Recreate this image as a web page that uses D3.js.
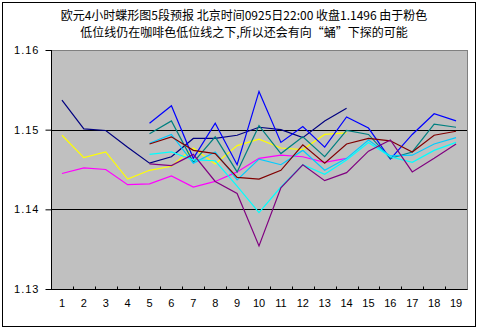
<!DOCTYPE html>
<html>
<head>
<meta charset="utf-8">
<script src="https://cdn.jsdelivr.net/npm/d3@7"></script>
<style>
  html, body { margin: 0; padding: 0; background: #ffffff; }
  svg { display: block; }
</style>
</head>
<body>
<svg id="chart" width="483" height="332"></svg>
<script>
// Categories along the x axis (4-hour bars)
const categories = ["1","2","3","4","5","6","7","8","9","10","11","12","13","14","15","16","17","18","19"];
const yTicks = [1.13, 1.14, 1.15, 1.16];
const titleLines = [
  "欧元4小时蝶形图5段预报 北京时间0925日22:00 收盘1.1496 由于粉色",
  "低位线仍在咖啡色低位线之下,所以还会有向“蛹”下探的可能"
];

// Series values; null where a series has no value
const navy    = [1.1537,1.1501,1.1499,1.1478,1.1458,1.1466,1.1489,1.1489,1.1493,1.1503,1.1500,1.1490,1.1511,1.1527,null,null,null,null,null];
const yellow  = [1.1493,1.1465,1.1472,1.1438,1.1449,1.1454,1.1477,1.1457,1.1480,1.1488,1.1477,1.1475,1.1494,1.1496,null,null,null,null,null];
const magenta = [1.1445,1.1452,1.1450,1.1431,1.1432,1.1442,1.1428,1.1435,1.1447,1.1464,1.1468,1.1466,1.1459,1.1464,null,null,null,null,null];
const blue    = [null,null,null,null,1.1508,1.1530,1.1464,1.1508,1.1456,1.1548,1.1484,1.1504,1.1478,1.1516,1.1502,1.1463,1.1494,1.1520,1.1511];
const teal    = [null,null,null,null,1.1495,1.1511,1.1459,1.1491,1.1447,1.1505,1.1470,1.1491,1.1466,1.1499,1.1494,1.1464,1.1472,1.1507,1.1503];
const skyBlue = [null,null,null,null,1.1483,1.1494,1.1458,1.1472,1.1437,1.1463,1.1456,1.1474,1.1449,1.1464,1.1487,1.1467,1.1468,1.1482,1.1490];
const cyan    = [null,null,null,null,1.1469,1.1472,1.1462,1.1461,1.1429,1.1396,1.1428,1.1456,1.1444,1.1462,1.1484,1.1466,1.1459,1.1474,1.1484];
const maroon  = [null,null,null,null,1.1482,1.1491,1.1474,1.1470,1.1440,1.1438,1.1449,1.1481,1.1458,1.1482,1.1489,1.1486,1.1472,1.1493,1.1498];
const purple  = [null,null,null,null,1.1457,1.1455,1.1469,1.1435,1.1420,1.1354,1.1427,1.1456,1.1436,1.1446,1.1473,1.1487,1.1447,1.1464,1.1482];

const series = [
  { values: navy,    color: "#000080" },
  { values: yellow,  color: "#ffff00" },
  { values: magenta, color: "#ff00ff" },
  { values: blue,    color: "#0000ff" },
  { values: teal,    color: "#008080" },
  { values: skyBlue, color: "#00ccff" },
  { values: cyan,    color: "#00ffff" },
  { values: maroon,  color: "#800000" },
  { values: purple,  color: "#800080" }
];

const svg = d3.select("#chart");
const plot = { left: 51, right: 467, top: 50, bottom: 289 };

// Outer chart frame
svg.append("rect")
  .attr("x", 2.5).attr("y", 2.5)
  .attr("width", 473).attr("height", 324)
  .attr("fill", "#ffffff").attr("stroke", "#000000").attr("stroke-width", 1);

// Title
svg.append("g").selectAll("text")
  .data(titleLines)
  .join("text")
  .attr("x", 244)
  .attr("y", (d, i) => 20 + i * 17)
  .attr("text-anchor", "middle")
  .attr("font-family", "'Noto Sans CJK SC', sans-serif")
  .attr("font-size", 12)
  .attr("fill", "#000000")
  .text(d => d);

const x = d3.scaleBand().domain(categories).range([plot.left, plot.right]);
const y = d3.scaleLinear().domain([1.13, 1.16]).range([plot.bottom, plot.top]);

// Plot area background and border
svg.append("rect")
  .attr("x", plot.left + 0.5).attr("y", plot.top + 0.5)
  .attr("width", plot.right - plot.left).attr("height", plot.bottom - plot.top)
  .attr("fill", "#c0c0c0").attr("stroke", "#808080");

// Horizontal gridlines
svg.append("g").selectAll("line")
  .data(yTicks.filter(t => t > 1.13 && t < 1.16))
  .join("line")
  .attr("x1", plot.left).attr("x2", plot.right)
  .attr("y1", d => Math.round(y(d)) + 0.5).attr("y2", d => Math.round(y(d)) + 0.5)
  .attr("stroke", "#000000");

// Y axis
const yAxis = d3.axisLeft(y).tickValues(yTicks).tickSize(6).tickPadding(6)
  .tickFormat(d3.format(".2f"));
const gy = svg.append("g")
  .attr("transform", `translate(${plot.left + 0.5},0)`)
  .call(yAxis);
gy.select(".domain").attr("stroke", "#000000").attr("d", `M0,${plot.top}V${plot.bottom + 0.5}`);
gy.selectAll(".tick line").attr("stroke", "#000000");
gy.selectAll(".tick text")
  .attr("font-family", "'Liberation Sans', Arial, sans-serif")
  .attr("font-size", 11).attr("letter-spacing", 1).attr("fill", "#000000");

// X axis: labels at band centres, small ticks on band boundaries pointing up
const xAxis = d3.axisBottom(x).tickSize(0).tickPadding(10);
const gx = svg.append("g")
  .attr("transform", `translate(0,${plot.bottom + 0.5})`)
  .call(xAxis);
gx.select(".domain").attr("stroke", "#000000").attr("d", `M${plot.left},0H${plot.right + 0.5}`);
gx.selectAll(".tick text")
  .attr("font-family", "'Liberation Sans', Arial, sans-serif")
  .attr("font-size", 11).attr("fill", "#000000");
gx.append("g").selectAll("line")
  .data(categories.slice(1))
  .join("line")
  .attr("x1", d => Math.round(x(d)) + 0.5).attr("x2", d => Math.round(x(d)) + 0.5)
  .attr("y1", 0).attr("y2", -3)
  .attr("stroke", "#000000");

// Series lines
const line = d3.line()
  .defined(d => d.v !== null)
  .x(d => x(d.c) + x.bandwidth() / 2)
  .y(d => y(d.v));

svg.append("g").selectAll("path")
  .data(series)
  .join("path")
  .attr("fill", "none")
  .attr("stroke", d => d.color)
  .attr("stroke-width", 1.2)
  .attr("d", d => line(d.values.map((v, i) => ({ c: categories[i], v }))));
</script>
</body>
</html>
